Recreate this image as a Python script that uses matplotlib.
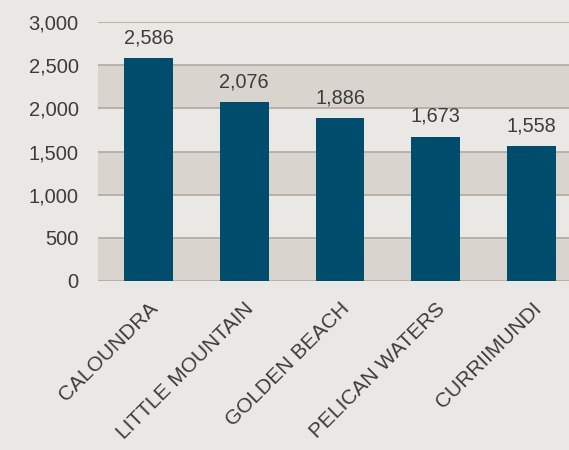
import matplotlib.pyplot as plt
from matplotlib.ticker import FuncFormatter

suburbs = ['CALOUNDRA', 'LITTLE MOUNTAIN', 'GOLDEN BEACH', 'PELICAN WATERS', 'CURRIIMUNDI']
counts = [2586, 2076, 1886, 1673, 1558]
yticks = [0, 500, 1000, 1500, 2000, 2500, 3000]

bg = '#EAE8E4'
band = '#D9D4CE'
grid = '#B2A99F'
bar_col = '#004C6D'
txt = '#3C3C3C'

plt.rcParams['font.family'] = ['Liberation Sans', 'DejaVu Sans']

fig = plt.figure(figsize=(5.69, 4.5), dpi=100, facecolor=bg)
ax = fig.add_axes([98/569, (450-281)/450, 1 - 98/569, (281-22)/450], facecolor=bg)

# alternating bands
for lo in (0, 1000, 2000):
    ax.axhspan(lo, lo + 500, color=band, zorder=0, lw=0)
for y in yticks:
    ax.axhline(y, color=grid, lw=1.2, zorder=1)

x = range(len(suburbs))
ax.bar(x, counts, width=0.51, color=bar_col, zorder=2)
for xi, v in zip(x, counts):
    ax.annotate(f'{v:,}', (xi, v), xytext=(0, 10.5), textcoords='offset points',
                ha='center', va='baseline', fontsize=14.3, color=txt)

ax.set_xlim(-0.527, 4.39)
ax.set_ylim(0, 3000)
ax.set_yticks(yticks)
ax.yaxis.set_major_formatter(FuncFormatter(lambda v, p: f'{int(v):,}'))
ax.set_xticks(list(x))
ax.set_xticklabels(suburbs, rotation=45, ha='right', va='top', rotation_mode='anchor',
                   fontsize=15)
ax.tick_params(axis='y', length=0, labelsize=14.5, labelcolor=txt, pad=14)
ax.tick_params(axis='x', length=0, labelcolor=txt, pad=13)
for s in ax.spines.values():
    s.set_visible(False)

fig.savefig('out.png', dpi=100, facecolor=bg)
